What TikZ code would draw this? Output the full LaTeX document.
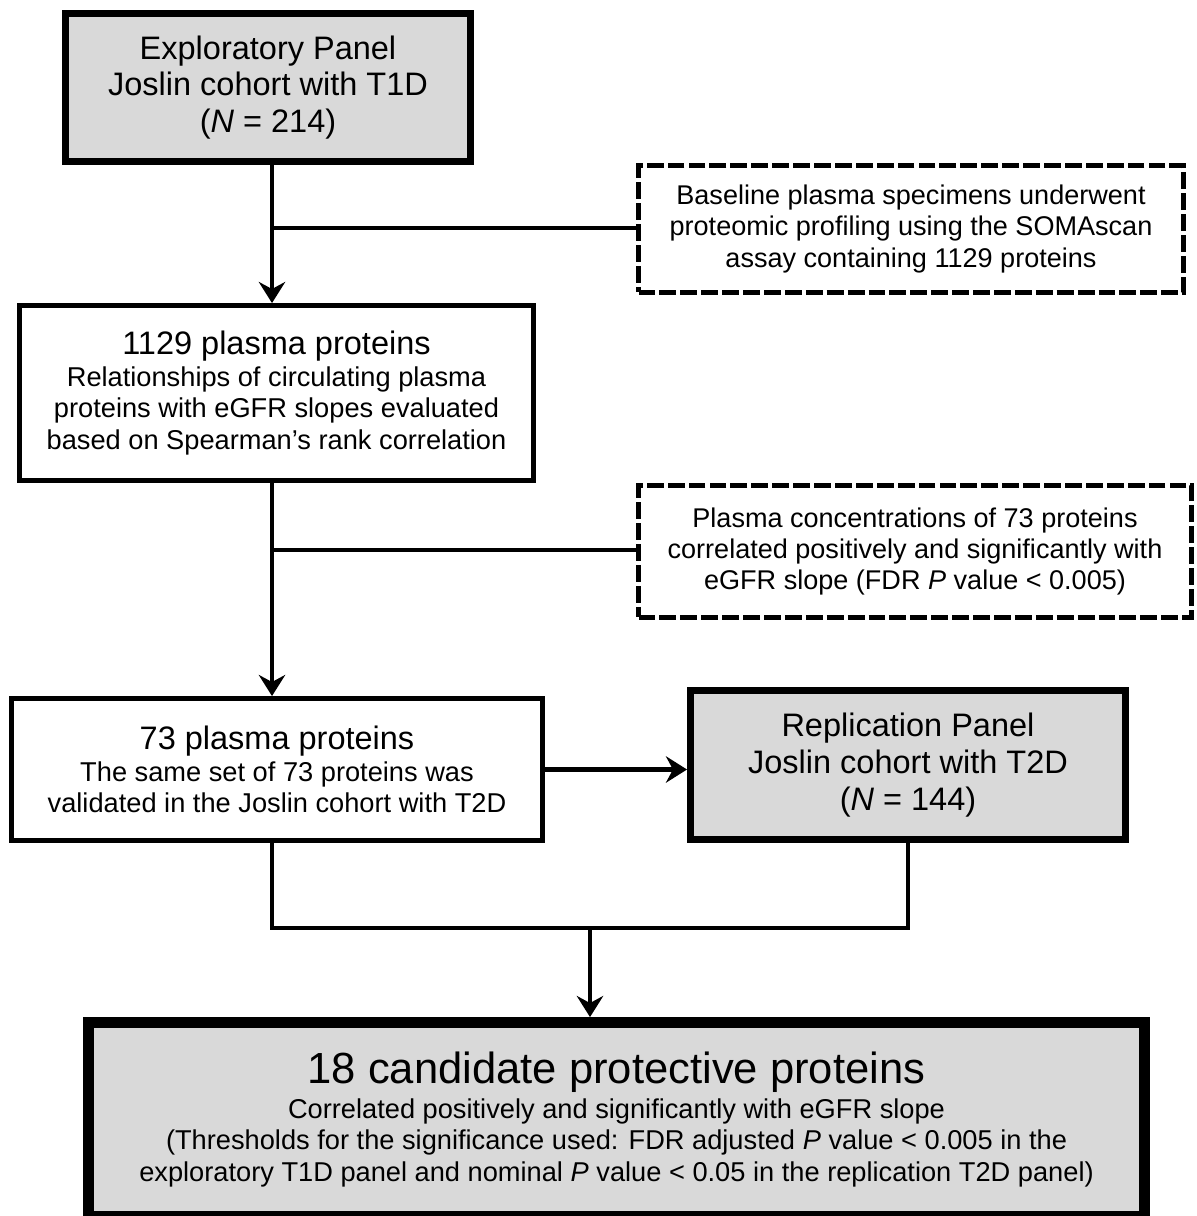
\documentclass[tikz,border=0pt]{standalone}
\usepackage{fontspec}
\setmainfont{Liberation Sans}
\usetikzlibrary{arrows.meta}
\definecolor{boxgray}{RGB}{217,217,217}
\newcommand{\titlefont}{\fontsize{18.5}{21}\selectfont}
\newcommand{\bigtitlefont}{\fontsize{24.8}{28}\selectfont}

\begin{document}
\begin{tikzpicture}[x=0.02cm,y=-0.02cm,
    basebox/.style={draw=black,rectangle,align=center,inner sep=0pt},
    panelbox/.style={basebox,fill=boxgray,line width=4pt,font=\titlefont},
    stepbox/.style={basebox,fill=white,line width=2.8pt,font=\fontsize{15.5}{17.9}\selectfont},
    notebox/.style={basebox,line width=2.8pt,dash pattern=on 9.6pt off 2.3pt,font=\fontsize{15.4}{17.9}\selectfont},
    resultbox/.style={basebox,fill=boxgray,line width=6.2pt,font=\fontsize{15.5}{17.9}\selectfont},
    link/.style={line width=2.8pt},
    flowarrow/.style={link,-{Stealth[length=12pt,width=15pt,inset=4pt]}}]
    \useasboundingbox (0,0) rectangle (1196,1216);

    % boxes
    \node[panelbox,minimum width=8.10cm,minimum height=2.96cm] (t1d) at (268,87.5)
        {Exploratory Panel\\Joslin cohort with T1D\\(\textit{N} = 214)};
    \node[notebox,minimum width=10.90cm,minimum height=2.54cm] (soma) at (911,229)
        {Baseline plasma specimens underwent\\proteomic profiling using the SOMAscan\\assay containing 1129 proteins};
    \node[stepbox,minimum width=10.28cm,minimum height=3.50cm] (all) at (276.5,393)
        {{\titlefont 1129 plasma proteins}\\Relationships of circulating plasma\\proteins with eGFR slopes evaluated\\based on Spearman’s rank correlation};
    \node[notebox,minimum width=11.06cm,minimum height=2.64cm] (fdr) at (915,551.5)
        {Plasma concentrations of 73 proteins\\correlated positively and significantly with\\eGFR slope (FDR \textit{P} value < 0.005)};
    \node[stepbox,minimum width=10.62cm,minimum height=2.84cm] (sel) at (277,769.5)
        {{\titlefont 73 plasma proteins}\\The same set of 73 proteins was\\validated in the Joslin cohort with T2D};
    \node[panelbox,minimum width=8.70cm,minimum height=2.98cm] (t2d) at (908,765)
        {Replication Panel\\Joslin cohort with T2D\\(\textit{N} = 144)};
    \node[resultbox,minimum width=21.12cm,minimum height=3.88cm] (final) at (616.5,1119.5)
        {{\bigtitlefont 18 candidate protective proteins}\\[2pt]Correlated positively and significantly with eGFR slope\\(Thresholds for the significance used: FDR adjusted \textit{P} value < 0.005 in the\\exploratory T1D panel and nominal \textit{P} value < 0.05 in the replication T2D panel)};

    % connectors
    \coordinate (j1) at (272,228);
    \coordinate (j2) at (272,550);
    \coordinate (j3) at (272,928);
    \coordinate (j4) at (590,928);
    \draw[flowarrow] (t1d.south -| j1) -- (all.north -| j1);
    \draw[link] (j1) -- (j1 -| soma.west);
    \draw[flowarrow] (all.south -| j2) -- (sel.north -| j2);
    \draw[link] (j2) -- (j2 -| fdr.west);
    \draw[flowarrow] (sel.east) -- (sel.east -| t2d.west);
    \draw[link] (sel.south -| j3) -- (j3) -| (t2d.south);
    \draw[flowarrow] (j4) -- (final.north -| j4);
\end{tikzpicture}
\end{document}
